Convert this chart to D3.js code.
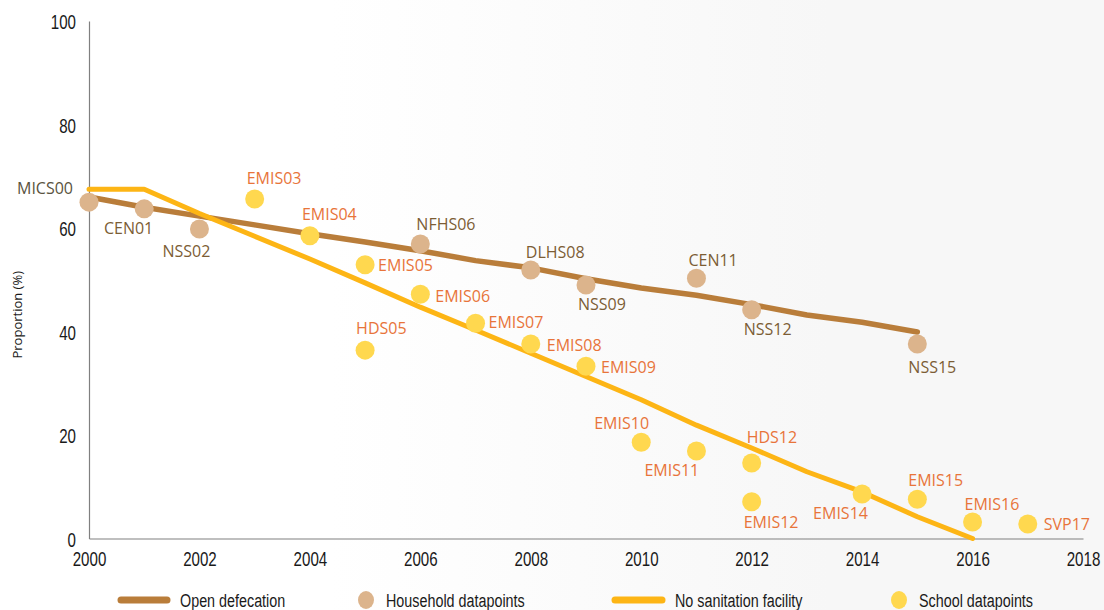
<!DOCTYPE html>
<html><head><meta charset="utf-8">
<script src="https://cdn.jsdelivr.net/npm/d3@7"></script>
<style>
html,body{margin:0;padding:0;background:#fff;}
svg{display:block;}
</style></head>
<body>
<script>
// ---- data ----
const lineYears = [2000,2001,2002,2003,2004,2005,2006,2007,2008,2009,2010,2011,2012,2013,2014,2015,2016];
const openDefecation = [66.0,64.0,62.3,60.6,58.9,57.3,55.6,53.7,52.3,50.2,48.4,47.0,45.2,43.2,41.8,39.9,null];
const noSanitation = [67.5,67.5,62.8,58.4,54.0,49.4,44.7,40.3,35.8,31.3,26.8,21.9,17.5,12.9,9.0,4.2,0.0];

const householdLabels = ["MICS00","CEN01","NSS02","NFHS06","DLHS08","NSS09","CEN11","NSS12","NSS15"];
const householdYears  = [2000,2001,2002,2006,2008,2009,2011,2012,2015];
const householdValues = [65.0,63.7,59.8,56.9,51.9,49.0,50.3,44.2,37.6];

const schoolLabels = ["EMIS03","EMIS04","EMIS05","HDS05","EMIS06","EMIS07","EMIS08","EMIS09","EMIS10","EMIS11","HDS12","EMIS12","EMIS14","EMIS15","EMIS16","SVP17"];
const schoolYears  = [2003,2004,2005,2005,2006,2007,2008,2009,2010,2011,2012,2012,2014,2015,2016,2017];
const schoolValues = [65.6,58.5,52.9,36.4,47.2,41.6,37.6,33.3,18.6,16.9,14.6,7.1,8.6,7.6,3.2,2.8];

const xTicks = [2000,2002,2004,2006,2008,2010,2012,2014,2016,2018];
const yTicks = [0,20,40,60,80,100];
const legendLabels = ["Open defecation","Household datapoints","No sanitation facility","School datapoints"];

// label placement (offsets in px relative to the point; anchor)
const householdPos = [
  {dx:-16,dy:-14,a:"end"},{dx:9,dy:20,a:"end"},{dx:-37,dy:22,a:"start"},
  {dx:-4,dy:-20,a:"start"},{dx:-5,dy:-18,a:"start"},{dx:-8,dy:19,a:"start"},
  {dx:-8,dy:-18,a:"start"},{dx:-8,dy:20,a:"start"},{dx:-9,dy:23,a:"start"}
];
const schoolPos = [
  {dx:-8,dy:-21,a:"start"},{dx:-8,dy:-21,a:"start"},{dx:13,dy:1,a:"start"},{dx:-9,dy:-22,a:"start"},
  {dx:15,dy:2,a:"start"},{dx:13,dy:-1,a:"start"},{dx:16,dy:1,a:"start"},{dx:15,dy:1,a:"start"},
  {dx:-47,dy:-19,a:"start"},{dx:-52,dy:19,a:"start"},{dx:-5,dy:-26,a:"start"},{dx:-8,dy:21,a:"start"},
  {dx:-49,dy:19,a:"start"},{dx:-9,dy:-19,a:"start"},{dx:-8,dy:-18,a:"start"},{dx:16,dy:0,a:"start"}
];

const W = 1104, H = 610;
const C_OD = "#b97d3a", C_HH = "#dcb48c", C_NS = "#fdb515", C_SC = "#ffd84f";
const C_HHT = "#7c5d35", C_SCT = "#e8743a";

const svg = d3.select("body").append("svg").attr("width",W).attr("height",H);
const defs = svg.append("defs");
const grad = defs.append("linearGradient").attr("id","bg").attr("x1","0").attr("x2","1").attr("y1","0").attr("y2","0");
grad.append("stop").attr("offset","0").attr("stop-color","#ffffff");
grad.append("stop").attr("offset","0.3").attr("stop-color","#ffffff");
grad.append("stop").attr("offset","0.75").attr("stop-color","#f7f7f7");
grad.append("stop").attr("offset","1").attr("stop-color","#f7f7f7");
svg.append("rect").attr("width",W).attr("height",H).attr("fill","url(#bg)");

const x = d3.scaleLinear().domain([2000,2018]).range([89,1083]);
const y = d3.scaleLinear().domain([0,100]).range([538.5,21]);

const axisFont = "'Liberation Sans',Arial,sans-serif";
const SX = 0.72;

// axes
const gx = svg.append("g").attr("transform",`translate(0,${y(0)})`)
  .call(d3.axisBottom(x).tickValues(xTicks).tickFormat(d3.format("d")).tickSize(0).tickPadding(13));
const gy = svg.append("g").attr("transform",`translate(${x(2000)},0)`)
  .call(d3.axisLeft(y).tickValues(yTicks).tickSize(0).tickPadding(0));
[gx,gy].forEach(g=>{
  g.select(".domain").attr("stroke","#808080").attr("stroke-width",1.2);
  g.selectAll("text").attr("font-family",axisFont).attr("font-size",21).attr("fill","#1a1a1a")
    .attr("transform",`scale(${SX},1)`);
});
gy.selectAll("text").attr("x",-13/SX).attr("dy","0.36em");

svg.append("text").attr("transform",`translate(22,${(y(0)+y(100))/2+35}) rotate(-90)`)
  .attr("text-anchor","middle").attr("font-family","'Open Sans',sans-serif").attr("font-size",13)
  .attr("fill","#1a1a1a").text("Proportion (%)");

// lines
const line = d3.line().defined(d=>d[1]!=null).x(d=>x(d[0])).y(d=>y(d[1]));
svg.append("path").datum(lineYears.map((yr,i)=>[yr,openDefecation[i]]))
  .attr("d",line).attr("fill","none").attr("stroke",C_OD).attr("stroke-width",5.5)
  .attr("stroke-linecap","round").attr("stroke-linejoin","round");
svg.append("path").datum(lineYears.map((yr,i)=>[yr,noSanitation[i]]))
  .attr("d",line).attr("fill","none").attr("stroke",C_NS).attr("stroke-width",5)
  .attr("stroke-linecap","round").attr("stroke-linejoin","round");

const labelFont = "'Open Sans',sans-serif";
// household points
const hh = householdYears.map((yr,i)=>({yr,v:householdValues[i],lab:householdLabels[i],p:householdPos[i]}));
svg.append("g").selectAll("circle").data(hh).join("circle")
  .attr("cx",d=>x(d.yr)).attr("cy",d=>y(d.v)).attr("r",9.5).attr("fill",C_HH);
svg.append("g").selectAll("text").data(hh).join("text")
  .attr("x",d=>x(d.yr)+d.p.dx).attr("y",d=>y(d.v)+d.p.dy).attr("dy","0.35em")
  .attr("text-anchor",d=>d.p.a).attr("font-family",labelFont).attr("font-size",16)
  .attr("fill",(d,i)=> i===0 ? "#5a5340" : C_HHT).text(d=>d.lab);

// school points
const sc = schoolYears.map((yr,i)=>({yr,v:schoolValues[i],lab:schoolLabels[i],p:schoolPos[i]}));
svg.append("g").selectAll("circle").data(sc).join("circle")
  .attr("cx",d=>x(d.yr)).attr("cy",d=>y(d.v)).attr("r",9.5).attr("fill",C_SC);
svg.append("g").selectAll("text").data(sc).join("text")
  .attr("x",d=>x(d.yr)+d.p.dx).attr("y",d=>y(d.v)+d.p.dy).attr("dy","0.35em")
  .attr("text-anchor",d=>d.p.a).attr("font-family",labelFont).attr("font-size",16)
  .attr("fill",C_SCT).text(d=>d.lab);

// legend
const ly = 600;
const lg = svg.append("g");
const items = [
  {t:"line",c:C_OD,x0:121,x1:167,tx:180},
  {t:"dot",c:C_HH,cx:366,tx:386},
  {t:"line",c:C_NS,x0:615,x1:662,tx:675},
  {t:"dot",c:C_SC,cx:899,tx:919}
];
items.forEach((it,i)=>{
  if(it.t==="line"){
    lg.append("line").attr("x1",it.x0).attr("x2",it.x1).attr("y1",ly).attr("y2",ly)
      .attr("stroke",it.c).attr("stroke-width",7).attr("stroke-linecap","round");
  } else {
    lg.append("ellipse").attr("cx",it.cx).attr("cy",ly).attr("rx",8).attr("ry",9).attr("fill",it.c);
  }
  lg.append("text").attr("transform",`translate(${it.tx},${ly}) scale(0.755,1)`).attr("dy","0.36em")
    .attr("font-family",axisFont).attr("font-size",19).attr("fill","#1a1a1a").text(legendLabels[i]);
});
</script>
</body></html>
